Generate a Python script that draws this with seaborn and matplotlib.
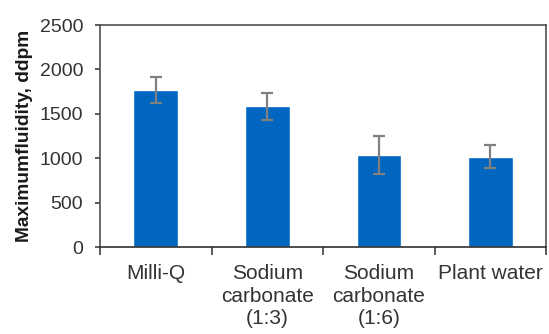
import matplotlib
matplotlib.use("Agg")
import matplotlib.pyplot as plt
import seaborn as sns
import pandas as pd

categories = ["Milli-Q", "Sodium\ncarbonate\n(1:3)", "Sodium\ncarbonate\n(1:6)", "Plant water"]
fluidity = [1770, 1585, 1035, 1020]
fluidity_err = [150, 150, 215, 133]
y_ticks = [0, 500, 1000, 1500, 2000, 2500]

sns.set_theme(style="white")
plt.rcParams["font.family"] = ["Liberation Sans", "DejaVu Sans"]

df = pd.DataFrame({"sample": categories, "fluidity": fluidity})

fig, ax = plt.subplots(figsize=(5.49, 3.34), dpi=100)
fig.subplots_adjust(left=0.182, right=0.995, top=0.925, bottom=0.26)

sns.barplot(data=df, x="sample", y="fluidity", color="#0066C0", saturation=1,
            width=0.40, errorbar=None, ax=ax)
ax.errorbar(range(len(categories)), fluidity, yerr=fluidity_err, fmt="none",
            ecolor="#808080", elinewidth=1.6, capsize=4, capthick=1.6, zorder=3)

ax.set_xlim(-0.5, len(categories) - 0.5)
ax.set_ylim(0, 2500)
ax.set_yticks(y_ticks)
ax.set_xlabel("")
ax.set_ylabel("Maximumfluidity, ddpm", fontsize=13.8, fontweight="bold",
              color="#1a1a1a", labelpad=5)

# category separators on the x axis
ax.set_xticks([i - 0.5 for i in range(len(categories) + 1)], minor=True)
ax.tick_params(axis="x", which="major", length=0, pad=12, labelsize=15, labelcolor="#333333")
ax.tick_params(axis="x", which="minor", length=5.5, width=1.2, color="#404040", direction="out", bottom=True)
ax.tick_params(axis="y", length=3.6, width=1.2, color="#404040", direction="out", left=True,
               labelsize=14, labelcolor="#333333", pad=8.5)
for lbl in ax.get_xticklabels():
    lbl.set_linespacing(1.25)

for side in ["left", "right", "top", "bottom"]:
    ax.spines[side].set_visible(True)
    ax.spines[side].set_color("#505050")
    ax.spines[side].set_linewidth(1.2)
ax.spines["bottom"].set_color("#303030")

fig.savefig("out.png", dpi=100)
